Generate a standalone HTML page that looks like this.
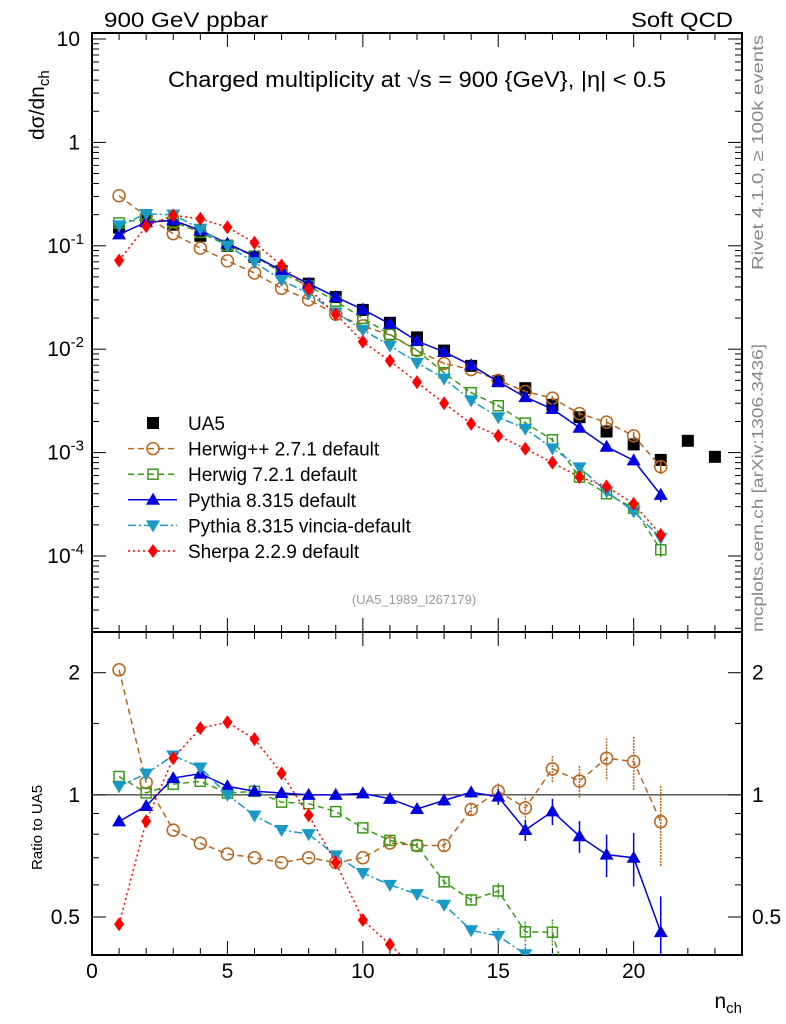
<!DOCTYPE html>
<html><head><meta charset="utf-8"><style>
html,body{margin:0;padding:0;background:#fff;width:786px;height:1024px;overflow:hidden}
svg{display:block;font-family:"Liberation Sans",sans-serif}
</style></head><body>
<svg id="c" width="786" height="1024" viewBox="0 0 786 1024">
<defs>
<clipPath id="clipTop"><rect x="92" y="33" width="650" height="599"/></clipPath>
<clipPath id="clipBot"><rect x="92" y="632" width="650" height="323"/></clipPath>
</defs>
<text x="104" y="27" font-size="21" textLength="164" lengthAdjust="spacingAndGlyphs">900 GeV ppbar</text>
<text x="631" y="27" font-size="21" textLength="102" lengthAdjust="spacingAndGlyphs">Soft QCD</text>
<text x="168" y="87" font-size="22" textLength="498" lengthAdjust="spacingAndGlyphs">Charged multiplicity at √s = 900 {GeV}, |η| &lt; 0.5</text>
<text x="414" y="604" font-size="13" fill="#999" text-anchor="middle">(UA5_1989_I267179)</text>
<text transform="translate(763,270) rotate(-90)" font-size="16" fill="#888" textLength="235" lengthAdjust="spacingAndGlyphs">Rivet 4.1.0, ≥ 100k events</text>
<text transform="translate(763,632) rotate(-90)" font-size="16" fill="#888" textLength="288" lengthAdjust="spacingAndGlyphs">mcplots.cern.ch [arXiv:1306.3436]</text>
<text transform="translate(44,140) rotate(-90)" font-size="21">dσ/dn<tspan font-size="15" dy="5">ch</tspan></text>
<text transform="translate(42,870) rotate(-90)" font-size="15">Ratio to UA5</text>
<text x="742" y="1008" font-size="21" text-anchor="end">n<tspan font-size="15" dy="5">ch</tspan></text>
<g id="g"></g>
</svg>
<script>
const nch = [1,2,3,4,5,6,7,8,9,10,11,12,13,14,15,16,17,18,19,20,21,22,23];
const ua5 = [0.15,0.18,0.16,0.125,0.10,0.078,0.057,0.043,0.032,0.024,0.018,0.013,0.0097,0.0069,0.0049,0.0042,0.0029,0.0022,0.0016,0.0012,0.00085,0.0013,0.00091];
const herwigpp = [0.305,0.193,0.131,0.095,0.0715,0.0546,0.0388,0.0301,0.0218,0.0168,0.0137,0.00975,0.00728,0.00635,0.0050,0.0039,0.00336,0.00238,0.00197,0.00145,0.00073];
const herwig7 = [0.1665,0.182,0.170,0.135,0.101,0.0796,0.0547,0.0409,0.0291,0.0199,0.0139,0.00975,0.00592,0.0038,0.00284,0.00193,0.00133,0.00058,0.00040,0.00029,0.000115];
const pythia = [0.129,0.169,0.176,0.141,0.105,0.0796,0.0576,0.043,0.032,0.0242,0.0176,0.012,0.0094,0.0070,0.00485,0.00344,0.00264,0.00174,0.00114,0.00084,0.00039];
const vincia = [0.1575,0.203,0.20,0.146,0.10,0.0694,0.0467,0.0344,0.0227,0.0154,0.0108,0.0074,0.0052,0.0032,0.0022,0.0017,0.0011,0.00072,0.00042,0.00027,0.00015];
const sherpa = [0.072,0.155,0.197,0.1825,0.151,0.107,0.0644,0.0383,0.0218,0.0118,0.0077,0.0048,0.0030,0.0019,0.00145,0.00109,0.0008,0.00058,0.00047,0.00032,0.00016];
const relErr = [0,0,0,0,0,0,0,0,0,0,0.01,0.01,0.02,0.02,0.03,0.04,0.05,0.06,0.08,0.1,0.15];
const xTicks = [0,5,10,15,20];
const yTickExp = [1,0,-1,-2,-3,-4];
const rTicks = [0.5,1,2];

const NS="http://www.w3.org/2000/svg";
const g=document.getElementById('g');
const X0=92,X1=742,T0=33,T1=632,B0=632,B1=955;
const xs=v=>X0+(v/24)*(X1-X0);
const yTopLog0=1.058, yTopLog1=-4.735;
const ys=v=>T0+(yTopLog0-Math.log10(v))/(yTopLog0-yTopLog1)*(T1-T0);
const rLog0=Math.log2(2.52), rLog1=Math.log2(0.403);
const yr=v=>B0+(rLog0-Math.log2(v))/(rLog0-rLog1)*(B1-B0);
function el(tag,attrs,parent){const e=document.createElementNS(NS,tag);for(const k in attrs)e.setAttribute(k,attrs[k]);(parent||g).appendChild(e);return e;}

const f1=el('rect',{x:X0,y:T0,width:X1-X0,height:T1-T0,fill:'none',stroke:'#000','stroke-width':2});


const f2=el('rect',{x:X0,y:B0,width:X1-X0,height:B1-B0,fill:'none',stroke:'#000','stroke-width':2});



for(let v=0;v<=24;v++){
  const L=(v%5===0)?14:7;
  const x=xs(v);
  [[T0,1],[T1,-1],[B0,1],[B1,-1]].forEach(([y,d])=>{el('line',{x1:x,x2:x,y1:y,y2:y+d*L,stroke:'#000','stroke-width':1});});
}
xTicks.forEach(v=>{
  const t=el('text',{x:xs(v),y:978,'font-size':21,'text-anchor':'middle'});
  t.textContent=v;
  
  
});
for(let e=-5;e<=1;e++){
  for(let m=1;m<10;m++){
    const v=m*Math.pow(10,e);
    const y=ys(v);
    if(y<T0||y>T1)continue;
    const L=m===1?14:7;
    el('line',{x1:X0,x2:X0+L,y1:y,y2:y,stroke:'#000'});
    el('line',{x1:X1,x2:X1-L,y1:y,y2:y,stroke:'#000'});
  }
}
yTickExp.forEach((e,i)=>{
  const y=ys(Math.pow(10,e));
  const t=el('text',{x:80,y:y+7,'font-size':21,'text-anchor':'end'});
  if(e>=0){t.textContent=String(Math.pow(10,e));}
  else{t.textContent='10';const s=el('tspan',{'font-size':15,dy:-9},t);s.textContent=String(e);t.setAttribute('x',84);}
  
  
});
[0.5,0.6,0.7,0.8,0.9,1,1.5,2].forEach(v=>{
  const y=yr(v);const L=(v===0.5||v===1||v===2)?14:7;
  el('line',{x1:X0,x2:X0+L,y1:y,y2:y,stroke:'#000'});
  el('line',{x1:X1,x2:X1-L,y1:y,y2:y,stroke:'#000'});
});
rTicks.forEach(v=>{
  [[80,'end'],[752,'start']].forEach(([x,a])=>{
    const t=el('text',{x:x,y:yr(v)+7,'font-size':21,'text-anchor':a});
    t.textContent=String(v);
    
    
  });
});
el('line',{x1:X0,x2:X1,y1:yr(1),y2:yr(1),stroke:'#000','stroke-width':1});

function marker(type,x,y,col,parent){
  const s=6;
  if(type==='sq') return el('rect',{x:x-s,y:y-s,width:2*s,height:2*s,fill:'#000'},parent);
  if(type==='circ') return el('circle',{cx:x,cy:y,r:s,fill:'none',stroke:col,'stroke-width':1.5},parent);
  if(type==='osq') return el('rect',{x:x-s+1,y:y-s+1,width:2*s-2,height:2*s-2,fill:'none',stroke:col,'stroke-width':1.5},parent);
  if(type==='tri') return el('polygon',{points:`${x},${y-7} ${x-7},${y+5} ${x+7},${y+5}`,fill:col},parent);
  if(type==='itri') return el('polygon',{points:`${x},${y+7} ${x-7},${y-5} ${x+7},${y-5}`,fill:col},parent);
  if(type==='dia') return el('polygon',{points:`${x},${y-7} ${x-5},${y} ${x},${y+7} ${x+5},${y}`,fill:col},parent);
}
const series=[
  {name:'herwigpp',label:'Herwig++ 2.7.1 default',data:herwigpp,col:'#b5651d',dash:'6,4',m:'circ'},
  {name:'herwig7',label:'Herwig 7.2.1 default',data:herwig7,col:'#3c9a18',dash:'6,4',m:'osq'},
  {name:'pythia',label:'Pythia 8.315 default',data:pythia,col:'#0000e0',dash:'',m:'tri'},
  {name:'vincia',label:'Pythia 8.315 vincia-default',data:vincia,col:'#1899c6',dash:'8,3,2,3',m:'itri'},
  {name:'sherpa',label:'Sherpa 2.2.9 default',data:sherpa,col:'#ff0000',dash:'2,3',m:'dia'}
];
const gt=el('g',{'clip-path':'url(#clipTop)'});
const gb=el('g',{'clip-path':'url(#clipBot)'});
ua5.forEach((v,i)=>{const r=marker('sq',xs(nch[i]),ys(v),'#000',gt);});
series.forEach(s=>{
  const gs=el('g',{},gt);
  
  
  const pts=s.data.map((v,i)=>xs(nch[i])+','+ys(v)).join(' ');
  el('polyline',{points:pts,fill:'none',stroke:s.col,'stroke-width':1.5,'stroke-dasharray':s.dash},gs);
  s.data.forEach((v,i)=>{
    const x=xs(nch[i]);
    if(relErr[i]>0){el('line',{x1:x,x2:x,y1:ys(v*(1+relErr[i])),y2:ys(v*(1-relErr[i])),stroke:s.col,'stroke-width':1.5},gs);}
    const m=marker(s.m,x,ys(v),s.col,gs);
    
    
  });
  const gr=el('g',{},gb);
  
  
  const rp=s.data.map((v,i)=>xs(nch[i])+','+yr(v/ua5[i])).join(' ');
  el('polyline',{points:rp,fill:'none',stroke:s.col,'stroke-width':1.5,'stroke-dasharray':s.dash},gr);
  s.data.forEach((v,i)=>{
    const x=xs(nch[i]),r=v/ua5[i];
    const e=relErr[i]*1.5;
    if(e>0){el('line',{x1:x,x2:x,y1:yr(r*(1+e)),y2:yr(r*(1-e)),stroke:s.col,'stroke-width':1.5,'stroke-dasharray':s.dash?'2,1':''},gr);}
    const m=marker(s.m,x,yr(r),s.col,gr);
    
    
  });
});
const lg=el('g',{});


const ly0=423,ldy=25.6;
const le0=el('g',{},lg);


marker('sq',153,ly0,'#000',le0);
const t0=el('text',{x:188,y:ly0+7,'font-size':19},le0);t0.textContent='UA5';
series.forEach((s,k)=>{
  const y=ly0+ldy*(k+1);
  const le=el('g',{},lg);
  
  
  el('line',{x1:128,x2:177,y1:y,y2:y,stroke:s.col,'stroke-width':1.5,'stroke-dasharray':s.dash},le);
  marker(s.m,153,y,s.col,le);
  const t=el('text',{x:188,y:y+7,'font-size':19},le);t.textContent=s.label;
});
</script>
</body></html>
